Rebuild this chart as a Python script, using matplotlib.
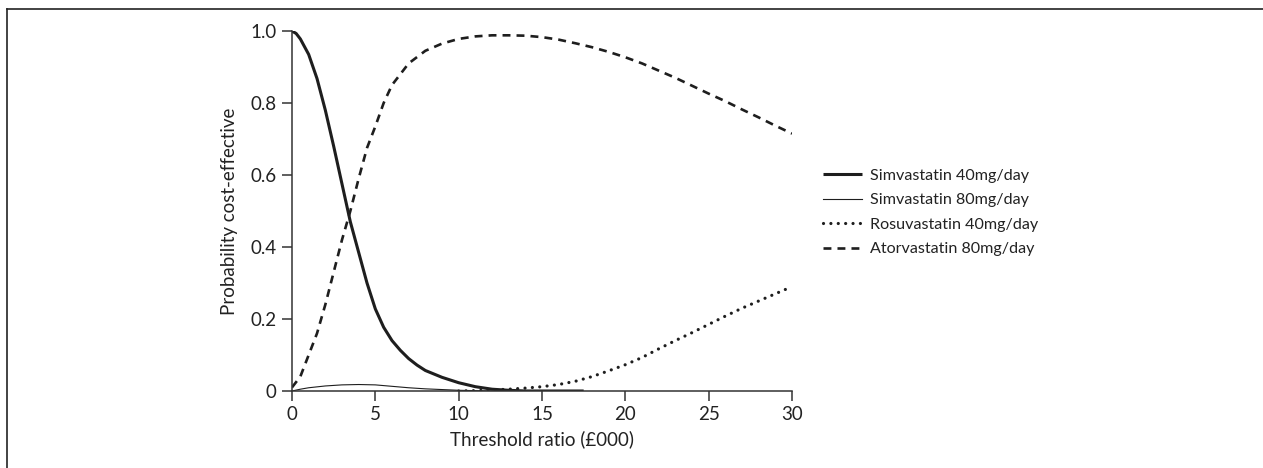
import matplotlib
matplotlib.use("Agg")
import matplotlib.pyplot as plt
from matplotlib.lines import Line2D

plt.rcParams['font.family'] = ['Lato', 'DejaVu Sans']

# ---- data ----
simva40_x = [0, 0.25, 0.5, 1, 1.5, 2, 2.5, 3, 3.5, 4, 4.5, 5, 5.5, 6, 6.5, 7, 7.5, 8, 9, 10, 11, 12, 13, 14, 17.5]
simva40_y = [1.0, 0.993, 0.978, 0.935, 0.868, 0.78, 0.68, 0.575, 0.47, 0.385, 0.30, 0.228, 0.177, 0.14,
             0.113, 0.09, 0.072, 0.057, 0.038, 0.023, 0.012, 0.005, 0.002, 0.0, 0.0]

simva80_x = [0, 0.5, 1, 2, 3, 4, 5, 6, 7, 8, 9, 10, 11, 12, 17.3]
simva80_y = [0.0, 0.005, 0.009, 0.014, 0.017, 0.018, 0.017, 0.013, 0.009, 0.006, 0.004, 0.002, 0.001, 0.0, 0.0]

rosuva_x = [10, 11, 12, 13, 14, 15, 16, 17, 18, 19, 20, 21, 22, 23, 24, 25, 26, 27, 28, 29, 30]
rosuva_y = [0.0, 0.001, 0.003, 0.005, 0.008, 0.012, 0.018, 0.027, 0.04, 0.056, 0.073, 0.093, 0.117,
            0.14, 0.162, 0.185, 0.208, 0.23, 0.25, 0.27, 0.29]

atorva_x = [0, 0.5, 1, 1.5, 2, 2.5, 3, 3.5, 4, 4.5, 5, 5.5, 6, 7, 8, 9, 10, 11, 12, 13, 14, 15, 16,
            17, 18, 19, 20, 21, 22, 23, 24, 25, 26, 27, 28, 29, 30]
atorva_y = [0.01, 0.04, 0.10, 0.16, 0.24, 0.33, 0.42, 0.50, 0.59, 0.675, 0.735, 0.80, 0.85, 0.91,
            0.945, 0.965, 0.978, 0.985, 0.988, 0.988, 0.987, 0.983, 0.976, 0.966, 0.955, 0.942,
            0.927, 0.91, 0.89, 0.87, 0.848, 0.826, 0.805, 0.782, 0.76, 0.737, 0.715]

labels = ["Simvastatin 40mg/day", "Simvastatin 80mg/day", "Rosuvastatin 40mg/day", "Atorvastatin 80mg/day"]
xticks = [0, 5, 10, 15, 20, 25, 30]
yticks = [0, 0.2, 0.4, 0.6, 0.8, 1.0]
yticklabels = ["0", "0.2", "0.4", "0.6", "0.8", "1.0"]

W, H = 1263, 468
fig = plt.figure(figsize=(W / 100, H / 100), dpi=100)
ax = fig.add_axes([292 / W, 1 - 391 / H, 500 / W, 360 / H])

col = '#1e1e1e'
l1, = ax.plot(simva40_x, simva40_y, color=col, lw=2.2, solid_capstyle='butt', solid_joinstyle='round')
l2, = ax.plot(simva80_x, simva80_y, color=col, lw=0.8)
l3, = ax.plot(rosuva_x, rosuva_y, color=col, lw=2.3, linestyle=(0, (0.01, 2.3)), dash_capstyle='round')
l4, = ax.plot(atorva_x, atorva_y, color=col, lw=1.9, linestyle=(0, (3.0, 2.3)), dash_capstyle='butt')

ax.set_xlim(0, 30)
ax.set_ylim(0, 1.0)
ax.set_xticks(xticks)
ax.set_xticklabels([str(v) for v in xticks])
ax.set_yticks(yticks)
ax.set_yticklabels(yticklabels)
for s in ['top', 'right']:
    ax.spines[s].set_visible(False)
for s in ['left', 'bottom']:
    ax.spines[s].set_color('#333333')
    ax.spines[s].set_linewidth(1.1)
ax.tick_params(direction='out', length=7, width=1.1, color='#333333', labelsize=13.5,
               labelcolor='#222222', pad=4)
ax.set_xlabel("Threshold ratio (£000)", fontsize=13.5, color='#222222', labelpad=5)
ax.set_ylabel("Probability cost-effective", fontsize=13.5, color='#222222', labelpad=9)

leg = fig.legend([l1, l2, l3, l4], labels, loc='upper left',
                 bbox_to_anchor=(817 / W, 1 - 162 / H), frameon=False, fontsize=11.6,
                 handlelength=2.4, handletextpad=0.5, labelspacing=0.64, borderaxespad=0)
for t in leg.get_texts():
    t.set_color('#222222')

# figure frame (top and left edges)
fig.add_artist(Line2D([7 / W, 7 / W], [0, 1 - 9 / H], transform=fig.transFigure, color='#222222', lw=1.2))
fig.add_artist(Line2D([7 / W, 1], [1 - 9 / H, 1 - 9 / H], transform=fig.transFigure, color='#222222', lw=1.2))

fig.savefig("out.png", dpi=100)
